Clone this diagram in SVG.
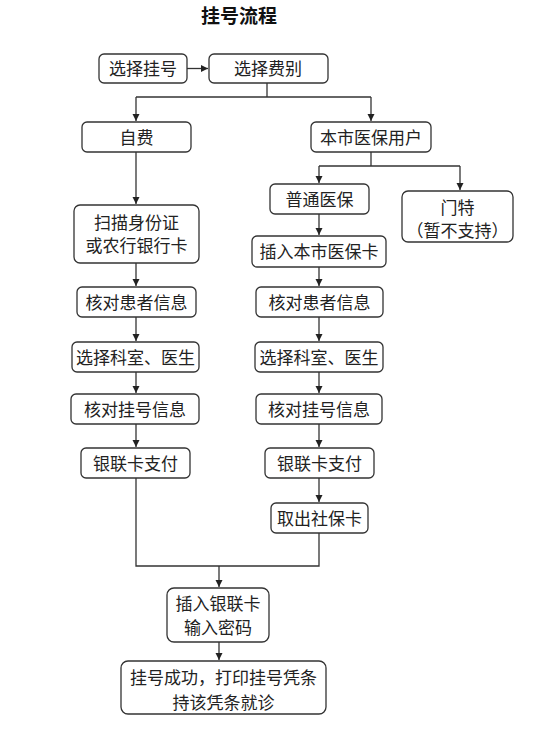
<svg xmlns="http://www.w3.org/2000/svg" width="554" height="732" viewBox="0 0 554 732">
<defs>
<marker id="ah" markerUnits="userSpaceOnUse" markerWidth="8" markerHeight="8" refX="7" refY="3.5" orient="auto">
<path d="M0,0 L7,3.5 L0,7 z" fill="#222"/>
</marker>
<style>
.box{fill:#fff;stroke:#333;stroke-width:1.3}
.t{font-family:"Noto Sans CJK SC","Noto Sans CJK TC",sans-serif;font-size:17px;fill:#222;text-anchor:middle}
.title{font-family:"Noto Sans CJK SC",sans-serif;font-size:19px;font-weight:bold;fill:#111;text-anchor:middle}
.c{fill:none;stroke:#333;stroke-width:1.3}
.a{marker-end:url(#ah)}
</style>
</defs>
<rect width="554" height="732" fill="#fff"/>
<text class="title" x="239" y="23">挂号流程</text>
<g id="connectors">
<line class="c a" x1="187" y1="68.5" x2="208" y2="68.5"/>
<polyline class="c" points="267,83 267,97"/>
<line class="c" x1="136" y1="97" x2="371" y2="97"/>
<line class="c a" x1="136" y1="97" x2="136" y2="121"/>
<line class="c a" x1="371" y1="97" x2="371" y2="121"/>
<line class="c a" x1="136" y1="152" x2="136" y2="204"/>
<line class="c" x1="371" y1="152" x2="371" y2="166"/>
<line class="c" x1="319" y1="166" x2="460" y2="166"/>
<line class="c a" x1="319" y1="166" x2="319" y2="183"/>
<line class="c a" x1="460" y1="166" x2="460" y2="190"/>
<line class="c a" x1="136" y1="263" x2="136" y2="286"/>
<line class="c a" x1="136" y1="317" x2="136" y2="341"/>
<line class="c a" x1="136" y1="372" x2="136" y2="393"/>
<line class="c a" x1="136" y1="424" x2="136" y2="447"/>
<line class="c a" x1="319" y1="214" x2="319" y2="235"/>
<line class="c a" x1="319" y1="267" x2="319" y2="286"/>
<line class="c a" x1="319" y1="317" x2="319" y2="341"/>
<line class="c a" x1="319" y1="372" x2="319" y2="393"/>
<line class="c a" x1="319" y1="424" x2="319" y2="447"/>
<line class="c a" x1="319" y1="478" x2="319" y2="502"/>
<polyline class="c" points="136,478 136,566 319,566 319,533"/>
<line class="c a" x1="219" y1="566" x2="219" y2="587"/>
<line class="c a" x1="219" y1="642" x2="219" y2="660"/>
</g>
<g id="n1"><rect class="box" x="99" y="54" width="88" height="29" rx="5"/><text class="t" x="143" y="74.5">选择挂号</text></g>
<g id="n2"><rect class="box" x="209" y="54" width="119" height="29" rx="5"/><text class="t" x="268" y="74.5">选择费别</text></g>
<g id="n3"><rect class="box" x="82" y="122" width="109" height="30" rx="5"/><text class="t" x="136.5" y="143.5">自费</text></g>
<g id="n4"><rect class="box" x="311" y="122" width="120" height="30" rx="5"/><text class="t" x="371" y="143.5">本市医保用户</text></g>
<g id="n5"><rect class="box" x="270" y="184" width="99" height="30" rx="5"/><text class="t" x="319.5" y="205.5">普通医保</text></g>
<g id="n6"><rect class="box" x="402" y="191" width="111" height="51" rx="6"/><text class="t" x="457.5" y="213.5">门特</text><text class="t" x="457.5" y="237">（暂不支持）</text></g>
<g id="n7"><rect class="box" x="74" y="205" width="125" height="58" rx="6"/><text class="t" x="136.5" y="229">扫描身份证</text><text class="t" x="136.5" y="252">或农行银行卡</text></g>
<g id="n8"><rect class="box" x="252" y="236" width="134" height="31" rx="5"/><text class="t" x="319" y="258">插入本市医保卡</text></g>
<g id="n9"><rect class="box" x="77" y="287" width="119" height="30" rx="5"/><text class="t" x="136.5" y="308.5">核对患者信息</text></g>
<g id="n10"><rect class="box" x="256" y="287" width="127" height="30" rx="5"/><text class="t" x="319.5" y="308.5">核对患者信息</text></g>
<g id="n11"><rect class="box" x="72" y="342" width="127" height="30" rx="5"/><text class="t" x="135.5" y="363.5">选择科室、医生</text></g>
<g id="n12"><rect class="box" x="255" y="342" width="128" height="30" rx="5"/><text class="t" x="319" y="363.5">选择科室、医生</text></g>
<g id="n13"><rect class="box" x="71" y="394" width="128" height="30" rx="5"/><text class="t" x="135" y="415.5">核对挂号信息</text></g>
<g id="n14"><rect class="box" x="256" y="394" width="126" height="30" rx="5"/><text class="t" x="319" y="415.5">核对挂号信息</text></g>
<g id="n15"><rect class="box" x="81" y="448" width="109" height="30" rx="5"/><text class="t" x="135.5" y="469.5">银联卡支付</text></g>
<g id="n16"><rect class="box" x="265" y="448" width="109" height="30" rx="5"/><text class="t" x="319.5" y="469.5">银联卡支付</text></g>
<g id="n17"><rect class="box" x="271" y="503" width="97" height="30" rx="5"/><text class="t" x="319.5" y="524.5">取出社保卡</text></g>
<g id="n18"><rect class="box" x="167" y="588" width="102" height="54" rx="7"/><text class="t" x="218" y="609.5">插入银联卡</text><text class="t" x="218" y="634">输入密码</text></g>
<g id="n19"><rect class="box" x="121" y="661" width="205" height="53" rx="7"/><text class="t" x="223.5" y="684">挂号成功，打印挂号凭条</text><text class="t" x="223.5" y="709">持该凭条就诊</text></g>
</svg>
